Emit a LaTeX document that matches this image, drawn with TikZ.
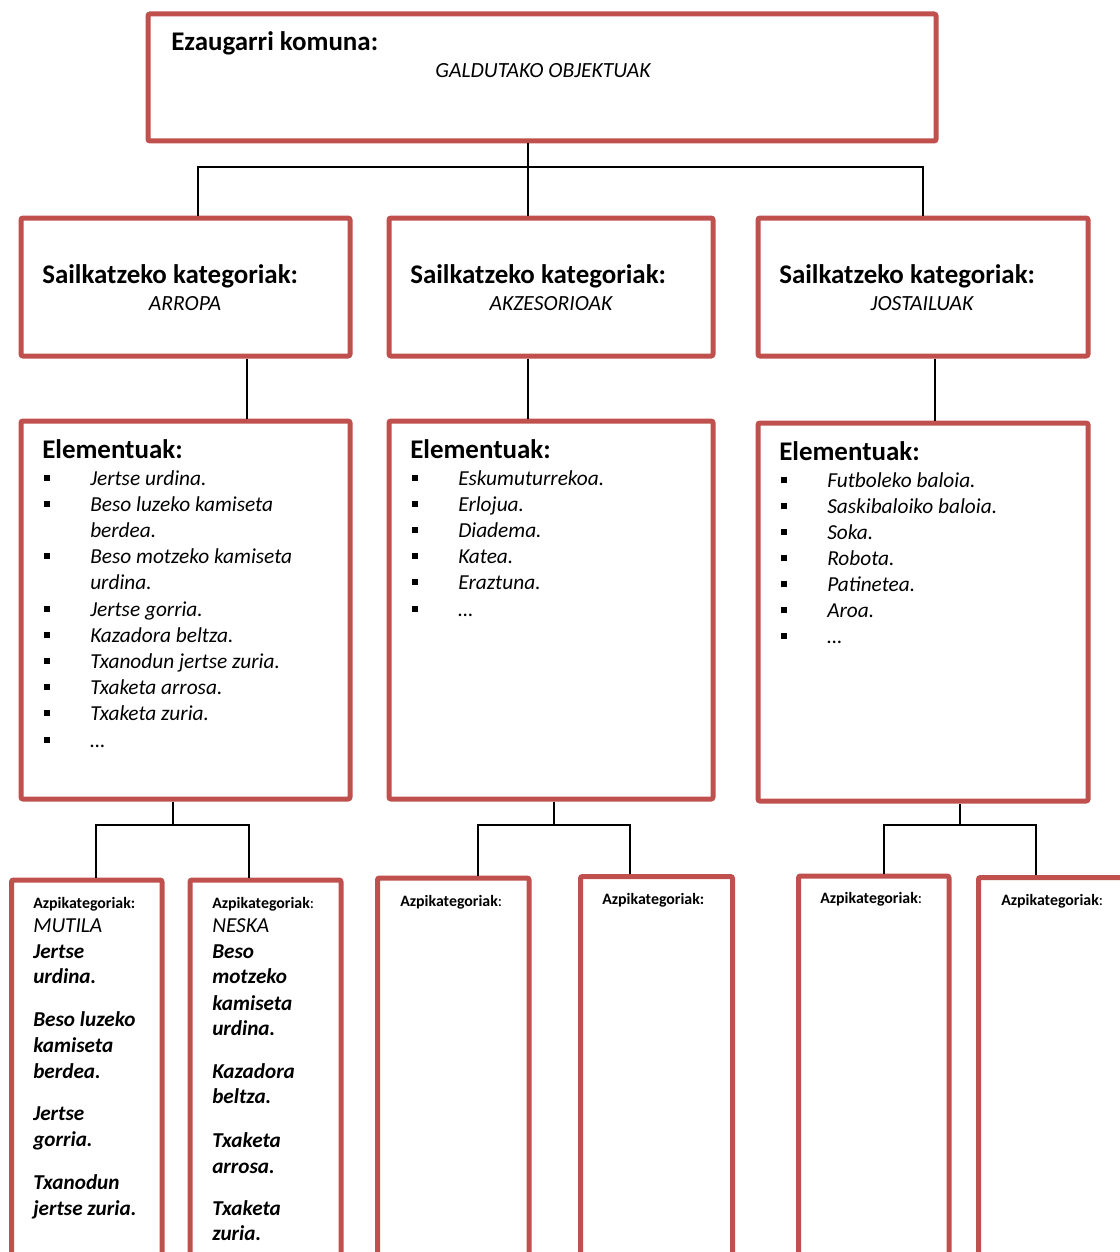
\documentclass[tikz,border=0pt]{standalone}
\usepackage{fontspec}
\setmainfont{Carlito}
\usetikzlibrary{fit}
\definecolor{boxred}{HTML}{C0504D}
\newcommand\bul{\makebox[0pt][r]{\raisebox{3pt}{\rule{4.5pt}{4.5pt}}\hspace{30pt}}}
\newcommand\azp{\textbf{Azpikategoriak:}}
\newcommand\azpl{\textbf{Azpikategoriak}:}
\tikzset{
  box/.style={draw=boxred, line width=3.75pt, rounded corners=1.5pt, inner sep=0pt},
  conn/.style={draw=black, line width=1.3pt},
  head/.style={anchor=base west, inner sep=0pt, font=\fontsize{20.2}{24}\selectfont\bfseries},
  sub/.style={anchor=base, inner sep=0pt, font=\fontsize{16.2}{19}\selectfont\itshape},
  itm/.style={anchor=base west, inner sep=0pt, font=\fontsize{16}{19}\selectfont\itshape},
  bitm/.style={anchor=base west, inner sep=0pt, font=\fontsize{15.9}{19}\selectfont\bfseries\itshape},
  azpt/.style={anchor=base west, inner sep=0pt, font=\fontsize{11.9}{14}\selectfont},
}
\begin{document}
\begin{tikzpicture}[x=0.75pt,y=-0.75pt]
\clip (0,0) rectangle (1120,1252);
\fill[white] (0,0) rectangle (1120,1252);
% boxes
\node[box, fit={(148,14) (936,141)}] (top) {};
\node[box, fit={(21,218) (350,356)}] (catL) {};
\node[box, fit={(389,218) (713,356)}] (catM) {};
\node[box, fit={(758,218) (1088,356)}] (catR) {};
\node[box, fit={(21,421) (350,799)}] (elL) {};
\node[box, fit={(389,421) (713,799)}] (elM) {};
\node[box, fit={(758,423) (1088,801)}] (elR) {};
\node[box, fit={(11.5,880) (162,1280)}] (sL1) {};
\node[box, fit={(190,880) (341,1280)}] (sL2) {};
\node[box, fit={(377.5,878) (529,1280)}] (sM1) {};
\node[box, fit={(580.5,876.5) (732.5,1280)}] (sM2) {};
\node[box, fit={(798.5,876) (949,1280)}] (sR1) {};
\node[box, fit={(978.5,877.5) (1135,1280)}] (sR2) {};
% connectors
\coordinate (hL) at (198,167);
\coordinate (hM) at (528,167);
\coordinate (hR) at (923,167);
\draw[conn] (hM |- top.south) -- (hM |- catM.north);
\draw[conn] (hL |- catL.north) -- (hL) -- (hR) -- (hR |- catR.north);
\coordinate (cL) at (247,0);
\coordinate (cM) at (528,0);
\coordinate (cR) at (935,0);
\draw[conn] (cL |- catL.south) -- (cL |- elL.north);
\draw[conn] (cM |- catM.south) -- (cM |- elM.north);
\draw[conn] (cR |- catR.south) -- (cR |- elR.north);
\coordinate (bL) at (173,825);
\coordinate (bL1) at (96,825);
\coordinate (bL2) at (249,825);
\draw[conn] (bL |- elL.south) -- (bL);
\draw[conn] (bL1 |- sL1.north) -- (bL1) -- (bL2) -- (bL2 |- sL2.north);
\coordinate (bM) at (554,825);
\coordinate (bM1) at (478,825);
\coordinate (bM2) at (630,825);
\draw[conn] (bM |- elM.south) -- (bM);
\draw[conn] (bM1 |- sM1.north) -- (bM1) -- (bM2) -- (bM2 |- sM2.north);
\coordinate (bR) at (960,825);
\coordinate (bR1) at (884,825);
\coordinate (bR2) at (1036,825);
\draw[conn] (bR |- elR.south) -- (bR);
\draw[conn] (bR1 |- sR1.north) -- (bR1) -- (bR2) -- (bR2 |- sR2.north);
% top texts
\node[head] (tEz) at (171,51) {Ezaugarri komuna:};
\node[sub] (tGal) at (543,78) {GALDUTAKO OBJEKTUAK};
\node[head] (tSL) at (42,283) {Sailkatzeko kategoriak:};
\node[head] (tSM) at (410,283) {Sailkatzeko kategoriak:};
\node[head] (tSR) at (779,283) {Sailkatzeko kategoriak:};
\node[sub] (tAr) at (185,310) {ARROPA};
\node[sub] (tAk) at (551,310) {AKZESORIOAK};
\node[sub] (tJo) at (922,310) {JOSTAILUAK};
\node[head] (tEL) at (42,458) {Elementuak:};
\node[head] (tEM) at (410,458) {Elementuak:};
\node[head] (tER) at (779,460) {Elementuak:};
% left list
\node[itm] (l1) at (90,485) {\bul Jertse urdina.};
\node[itm] (l2) at (90,511) {\bul Beso luzeko kamiseta};
\node[itm] (l3) at (90,537) {berdea.};
\node[itm] (l4) at (90,563) {\bul Beso motzeko kamiseta};
\node[itm] (l5) at (90,589) {urdina.};
\node[itm] (l6) at (90,616) {\bul Jertse gorria.};
\node[itm] (l7) at (90,642) {\bul Kazadora beltza.};
\node[itm] (l8) at (90,668) {\bul Txanodun jertse zuria.};
\node[itm] (l9) at (90,694) {\bul Txaketa arrosa.};
\node[itm] (l10) at (90,720) {\bul Txaketa zuria.};
\node[itm] (l11) at (90,747) {\bul …};
% middle list
\node[itm] (m1) at (458,485) {\bul Eskumuturrekoa.};
\node[itm] (m2) at (458,511) {\bul Erlojua.};
\node[itm] (m3) at (458,537) {\bul Diadema.};
\node[itm] (m4) at (458,563) {\bul Katea.};
\node[itm] (m5) at (458,589) {\bul Eraztuna.};
\node[itm] (m6) at (458,616) {\bul …};
% right list
\node[itm] (r1) at (827,487) {\bul Futboleko baloia.};
\node[itm] (r2) at (827,513) {\bul Saskibaloiko baloia.};
\node[itm] (r3) at (827,539) {\bul Soka.};
\node[itm] (r4) at (827,565) {\bul Robota.};
\node[itm] (r5) at (827,591) {\bul Patinetea.};
\node[itm] (r6) at (827,617) {\bul Aroa.};
\node[itm] (r7) at (827,643) {\bul …};
% subcategory boxes
\node[azpt] (a1) at (33,908) {\azp};
\node[itm] (a1t) at (33,932) {MUTILA};
\node[bitm] (a1a) at (33,958) {Jertse};
\node[bitm] (a1b) at (33,983) {urdina.};
\node[bitm] (a1c) at (33,1026) {Beso luzeko};
\node[bitm] (a1d) at (33,1052) {kamiseta};
\node[bitm] (a1e) at (33,1078) {berdea.};
\node[bitm] (a1f) at (33,1120) {Jertse};
\node[bitm] (a1g) at (33,1146) {gorria.};
\node[bitm] (a1h) at (33,1189) {Txanodun};
\node[bitm] (a1i) at (33,1215) {jertse zuria.};
\node[azpt] (a2) at (212,908) {\azpl};
\node[itm] (a2t) at (212,932) {NESKA};
\node[bitm] (a2a) at (212,958) {Beso};
\node[bitm] (a2b) at (212,983) {motzeko};
\node[bitm] (a2c) at (212,1010) {kamiseta};
\node[bitm] (a2d) at (212,1035) {urdina.};
\node[bitm] (a2e) at (212,1078) {Kazadora};
\node[bitm] (a2f) at (212,1103) {beltza.};
\node[bitm] (a2g) at (212,1147) {Txaketa};
\node[bitm] (a2h) at (212,1173) {arrosa.};
\node[bitm] (a2i) at (212,1215) {Txaketa};
\node[bitm] (a2j) at (212,1240) {zuria.};
\node[azpt] (a3) at (400,906) {\azpl};
\node[azpt] (a4) at (602,904) {\azp};
\node[azpt] (a5) at (820,903) {\azpl};
\node[azpt] (a6) at (1001,905) {\azpl};
\end{tikzpicture}
\end{document}
